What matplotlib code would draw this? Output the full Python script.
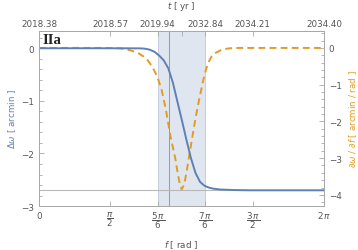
import numpy as np
import matplotlib.pyplot as plt

# values
f_blue = [0.0, 1.0, 2.0, 2.2, 2.3, 2.374, 2.45, 2.55, 2.65, 2.75, 2.85, 2.95, 3.05,
          3.15, 3.25, 3.35, 3.45, 3.55, 3.65, 3.75, 3.85, 4.0, 4.3, 4.65, 5.5, 6.2832]
dw = [0.0, 0.0, -0.001, -0.002, -0.005, -0.013, -0.03, -0.07, -0.14, -0.23, -0.38,
      -0.65, -1.01, -1.37, -1.74, -2.09, -2.37, -2.54, -2.615, -2.65, -2.67, -2.685,
      -2.695, -2.70, -2.70, -2.70]

f_orng = [0.0, 1.0, 1.345, 1.6, 1.8, 2.0, 2.1, 2.2, 2.3, 2.4, 2.5, 2.6, 2.7, 2.8,
          2.9, 3.0, 3.05, 3.1, 3.146, 3.2, 3.25, 3.3, 3.35, 3.4, 3.45, 3.5, 3.55,
          3.6, 3.65, 3.7, 3.75, 3.8, 3.9, 4.0, 4.1, 4.2, 4.4, 5.5, 6.2832]
dwdf = [0.0, 0.0, 0.0, -0.003, -0.012, -0.06, -0.10, -0.15, -0.23, -0.34, -0.52,
        -0.76, -1.12, -1.70, -2.42, -2.98, -3.35, -3.68, -3.85, -3.72, -3.40, -3.02,
        -2.65, -2.28, -1.92, -1.60, -1.29, -1.00, -0.72, -0.52, -0.36, -0.24, -0.13,
        -0.065, -0.03, -0.01, 0.0, 0.0, 0.0]

xticks = [0, np.pi/2, 5*np.pi/6, 7*np.pi/6, 3*np.pi/2, 2*np.pi]
xlabels = [r'$0$', r'$\dfrac{\pi}{2}$', r'$\dfrac{5\,\pi}{6}$', r'$\dfrac{7\,\pi}{6}$',
           r'$\dfrac{3\,\pi}{2}$', r'$2\,\pi$']
tticks = [0, np.pi/2, 5*np.pi/6, np.pi, 7*np.pi/6, 3*np.pi/2, 2*np.pi]
tlabels = ['2018.38', '2018.57', '2019.94', '', '2032.84', '2034.21', '2034.40']

span = (5*np.pi/6, 7*np.pi/6)
vline = 2.872
hline = -2.70

blue = '#5e81b5'
orange = '#e19c24'
grey = '#555555'
frame = '#a8a8a8'

plt.rcParams['font.family'] = 'DejaVu Sans'
plt.rcParams['mathtext.fontset'] = 'dejavusans'
plt.rcParams['font.size'] = 6.3

fig = plt.figure(figsize=(3.58, 2.51), dpi=100)
ax = fig.add_axes([0.109, 0.175, 0.796, 0.699])
ax2 = ax.twinx()

# background marks live on the lower axes so both curves sit on top
ax2.axvspan(span[0], span[1], color='#e0e6f0', lw=0, zorder=0)
for xv in span:
    ax2.axvline(xv, color='#c5cdde', lw=0.7, zorder=0.5)
ax2.axvline(vline, color='#8c9bbd', lw=0.7, zorder=0.6)

ax2.plot(f_orng, dwdf, color=orange, lw=1.4, dashes=(3.5, 2.2), zorder=2)
ax2.set_ylim(-4.305, 0.471)

ax.axhline(hline, color='#b8b8b8', lw=0.8, zorder=0.7)
ax.plot(f_blue, dw, color=blue, lw=1.4, zorder=3)
ax.set_xlim(0, 2*np.pi)
ax.set_ylim(-3, 0.335)
ax.set_zorder(ax2.get_zorder() + 1)
ax.patch.set_visible(False)

ax.set_xticks(xticks)
ax.set_xticklabels(xlabels)
ax.set_yticks([0, -1, -2, -3])
ax.set_yticklabels(['0', '\u22121', '\u22122', '\u22123'])
ax.set_yticks(np.arange(-3, 0.34, 0.2), minor=True)
ax2.set_yticks([0, -1, -2, -3, -4])
ax2.set_yticklabels(['0', '\u22121', '\u22122', '\u22123', '\u22124'])
ax2.set_yticks(np.arange(-4.2, 0.47, 0.2), minor=True)

top = ax.twiny()
top.set_xlim(0, 2*np.pi)
top.set_xticks(tticks)
top.set_xticklabels(tlabels)

for a in (ax, ax2, top):
    a.tick_params(which='both', direction='in', colors=frame, labelcolor=grey, width=0.6)
    a.tick_params(which='major', length=3.5)
    a.tick_params(which='minor', length=2)
    for s in a.spines.values():
        s.set_color(frame)
        s.set_linewidth(0.7)
ax.tick_params(axis='x', pad=2)
top.tick_params(axis='x', pad=2)

ax.set_xlabel(r'$f$ [ rad ]', color=grey, labelpad=6)
top.set_xlabel(r'$t$ [ yr ]', color=grey, labelpad=8)
ax.set_ylabel(r'$\Delta\omega$ [ arcmin ]', color=blue, labelpad=2)
ax2.set_ylabel(r'$\partial\omega\ /\ \partial f$ [ arcmin / rad ]', color=orange, labelpad=4)

ax.text(0.012, 0.985, 'IIa', transform=ax.transAxes, ha='left', va='top',
        family='Liberation Serif', fontweight='bold', fontsize=10.5, color='#222222')

fig.savefig('out.png', dpi=100)
